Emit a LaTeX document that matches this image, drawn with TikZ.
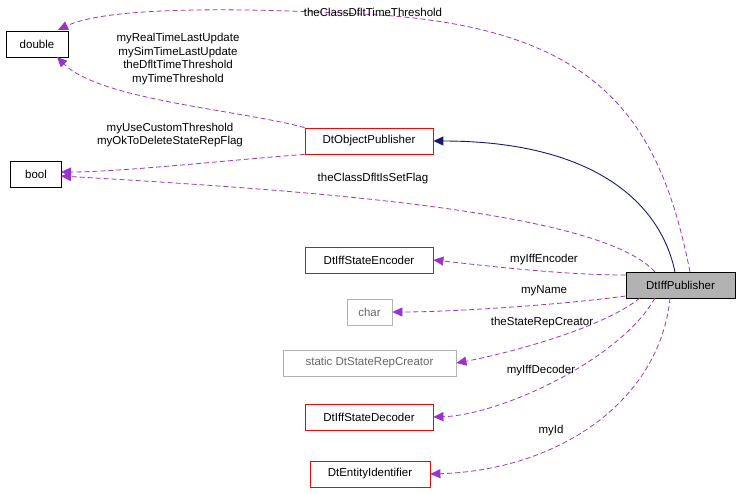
\documentclass[tikz,border=0pt]{standalone}
\usepackage{fontspec}
\setmainfont{Liberation Sans}
\usetikzlibrary{arrows.meta}
\definecolor{purp}{HTML}{9A32CD}
\definecolor{navy}{HTML}{191970}
\begin{document}
\begin{tikzpicture}[x=1pt,y=-1pt,
  font=\fontsize{11.5}{13.5}\selectfont,
  box/.style={draw=#1,fill=white,inner sep=0pt,minimum height=26pt,line width=0.8pt},
  rel/.style={purp,dash pattern=on 5pt off 3pt,line width=0.8pt,-{Triangle[length=10pt,width=9pt]}},
  inh/.style={navy,line width=0.9pt,-{Triangle[length=10pt,width=9pt]}},
  lab/.style={inner sep=1pt,text=black}]
\useasboundingbox (0,0) rectangle (736,493);
\node[box=black,minimum width=62pt] (dbl) at (37,44) {double};
\node[box=black,minimum width=51pt] (bool) at (36,174) {bool};
\node[box=red,minimum width=128pt] (dop) at (369,141) {DtObjectPublisher};
\node[box=red,minimum width=128pt] (enc) at (369,260) {DtIffStateEncoder};
\node[box=gray!60,minimum width=45pt,text=gray!80!black] (chr) at (369.5,312) {char};
\node[box=gray!60,minimum width=173pt,text=gray!80!black] (src) at (369.5,363) {static DtStateRepCreator};
\node[box=red,minimum width=128pt] (dec) at (369,417) {DtIffStateDecoder};
\node[box=red,minimum width=120pt] (eid) at (370,474) {DtEntityIdentifier};
\node[box=black,fill=gray!60,minimum width=109pt] (pub) at (680.5,285) {DtIffPublisher};

\draw[inh] (675,272) .. controls (660,200) and (590,141) .. (dop.east);
\draw[rel] (690,272) .. controls (660,120) and (600,30) .. (380,15) .. controls (200,5) and (100,10) .. (58,30);
\draw[rel] (dop.north west) .. controls (240,110) and (100,100) .. (57,57);
\draw[rel] (dop.south west) .. controls (230,160) and (120,172) .. (61,172);
\draw[rel] (655,272) .. controls (600,210) and (300,190) .. (61,176);
\draw[rel] (pub.west) ++(0,-10) .. controls (560,275) and (480,265) .. (enc.east);
\draw[rel] (pub.west) ++(0,11) .. controls (560,305) and (450,312) .. (chr.east);
\draw[rel] (640,298) .. controls (600,330) and (500,355) .. (src.east);
\draw[rel] (655,298) .. controls (620,360) and (500,415) .. (dec.east);
\draw[rel] (670,298) .. controls (660,400) and (560,470) .. (eid.east);

\node[lab] (l1) at (373,12) {theClassDfltTimeThreshold};
\node[lab,align=center] (l2) at (178,59) {myRealTimeLastUpdate\\mySimTimeLastUpdate\\theDfltTimeThreshold\\myTimeThreshold};
\node[lab,align=center] (l3) at (170,135) {myUseCustomThreshold\\myOkToDeleteStateRepFlag};
\node[lab] (l4) at (373,179) {theClassDfltIsSetFlag};
\node[lab] (l5) at (544,260) {myIffEncoder};
\node[lab] (l6) at (544,291) {myName};
\node[lab] (l7) at (542,323) {theStateRepCreator};
\node[lab] (l8) at (541,371) {myIffDecoder};
\node[lab] (l9) at (551,431) {myId};
\end{tikzpicture}
\end{document}
